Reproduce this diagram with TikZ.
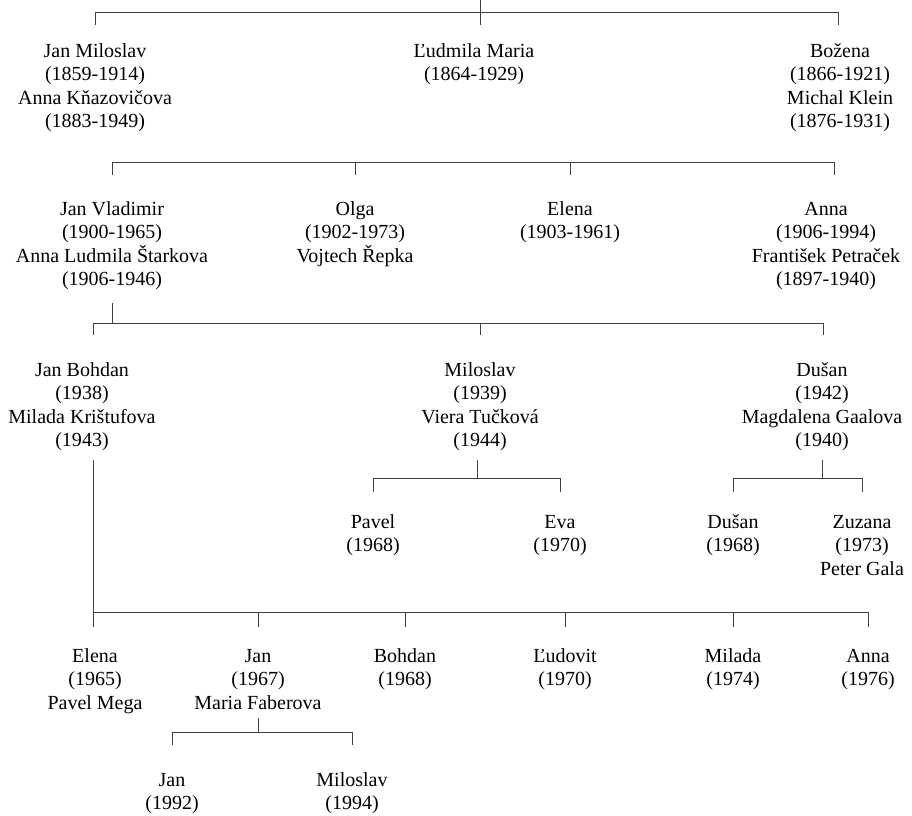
\documentclass[tikz,border=0pt]{standalone}
\usepackage{fontspec}
\setmainfont{Liberation Serif}
\newcommand{\tp}{\rule{0pt}{19pt}}
\begin{document}
\begin{tikzpicture}[x=1pt,y=-1pt,
  person/.style={anchor=north,inner sep=0pt,align=center,font=\fontsize{20}{23.5}\selectfont},
  tree/.style={draw=black!75,line width=0.9pt}]
\useasboundingbox (0,0) rectangle (912,815);
% generation 1
\node[person] (janm) at (95,38) {\tp Jan Miloslav\\(1859-1914)\\Anna Kňazovičova\\(1883-1949)};
\node[person] (lud) at (474,38) {\tp Ľudmila Maria\\(1864-1929)};
\node[person] (boz) at (840,38) {\tp Božena\\(1866-1921)\\Michal Klein\\(1876-1931)};
% generation 2
\node[person] (janv) at (112,196) {\tp Jan Vladimir\\(1900-1965)\\Anna Ludmila Štarkova\\(1906-1946)};
\node[person] (olga) at (355,196) {\tp Olga\\(1902-1973)\\Vojtech Řepka};
\node[person] (elena1) at (570,196) {\tp Elena\\(1903-1961)};
\node[person] (anna1) at (826,196) {\tp Anna\\(1906-1994)\\František Petraček\\(1897-1940)};
% generation 3
\node[person] (janb) at (82,357) {\tp Jan Bohdan\\(1938)\\Milada Krištufova\\(1943)};
\node[person] (milo) at (480,357) {\tp Miloslav\\(1939)\\Viera Tučková\\(1944)};
\node[person] (dusan) at (822,357) {\tp Dušan\\(1942)\\Magdalena Gaalova\\(1940)};
% generation 4a
\node[person] (pavel) at (373,509) {\tp Pavel\\(1968)};
\node[person] (eva) at (560,509) {\tp Eva\\(1970)};
\node[person] (dusan2) at (733,509) {\tp Dušan\\(1968)};
\node[person] (zuz) at (862,509) {\tp Zuzana\\(1973)\\Peter Gala};
% generation 4b
\node[person] (elena2) at (95,643) {\tp Elena\\(1965)\\Pavel Mega};
\node[person] (jan2) at (258,643) {\tp Jan\\(1967)\\Maria Faberova};
\node[person] (bohd) at (405,643) {\tp Bohdan\\(1968)};
\node[person] (ludo) at (565,643) {\tp Ľudovit\\(1970)};
\node[person] (mil) at (733,643) {\tp Milada\\(1974)};
\node[person] (anna2) at (868,643) {\tp Anna\\(1976)};
% generation 5
\node[person] (jan3) at (172,767) {\tp Jan\\(1992)};
\node[person] (milo3) at (352,767) {\tp Miloslav\\(1994)};
% bus 1
\coordinate (t0) at (480,0);
\coordinate (b1l) at (95,12); \coordinate (b1r) at (838,12); \coordinate (b1m) at (480,12);
\draw[tree] (b1l) -- (b1r);
\draw[tree] (t0) -- ([yshift=-13pt]b1m);
\draw[tree] (b1l) -- ++(0,13);
\draw[tree] (b1r) -- ++(0,13);
% bus 2
\coordinate (b2l) at (112,162); \coordinate (b2r) at (834,162);
\draw[tree] (b2l) -- (b2r);
\foreach \x in {112,355,570,834} \draw[tree] (\x,162) -- ++(0,13);
% bus 3
\coordinate (v3t) at (112,303); \coordinate (v3b) at (112,323);
\draw[tree] (v3t) -- (v3b);
\coordinate (b3l) at (93,323); \coordinate (b3r) at (823,323);
\draw[tree] (b3l) -- (b3r);
\foreach \x in {93,480,823} \draw[tree] (\x,323) -- ++(0,12);
% Miloslav's children
\coordinate (m1) at (477,460); \coordinate (m2) at (477,478);
\draw[tree] (m1) -- (m2);
\coordinate (m3l) at (373,478); \coordinate (m3r) at (560,478);
\draw[tree] (m3l) -- ++(0,14);
\draw[tree] (m3l) -- (m3r) -- ++(0,14);
% Dusan's children
\coordinate (d1) at (822,460); \coordinate (d2) at (822,478);
\draw[tree] (d1) -- (d2);
\coordinate (d3l) at (733,478); \coordinate (d3r) at (862,478);
\draw[tree] (d3l) -- ++(0,14);
\draw[tree] (d3l) -- (d3r) -- ++(0,14);
% Jan Bohdan's children
\coordinate (j1) at (93,460); \coordinate (j2) at (93,627);
\draw[tree] (j1) -- (j2);
\coordinate (b4l) at (93,612); \coordinate (b4r) at (868,612);
\draw[tree] (b4l) -- (b4r);
\foreach \x in {258,405,565,733,868} \draw[tree] (\x,612) -- ++(0,15);
% Jan's children
\coordinate (f1) at (258,718); \coordinate (f2) at (258,732);
\draw[tree] (f1) -- (f2);
\coordinate (f3l) at (172,732); \coordinate (f3r) at (352,732);
\draw[tree] (f3l) -- ++(0,13);
\draw[tree] (f3l) -- (f3r) -- ++(0,13);
\end{tikzpicture}
\end{document}
